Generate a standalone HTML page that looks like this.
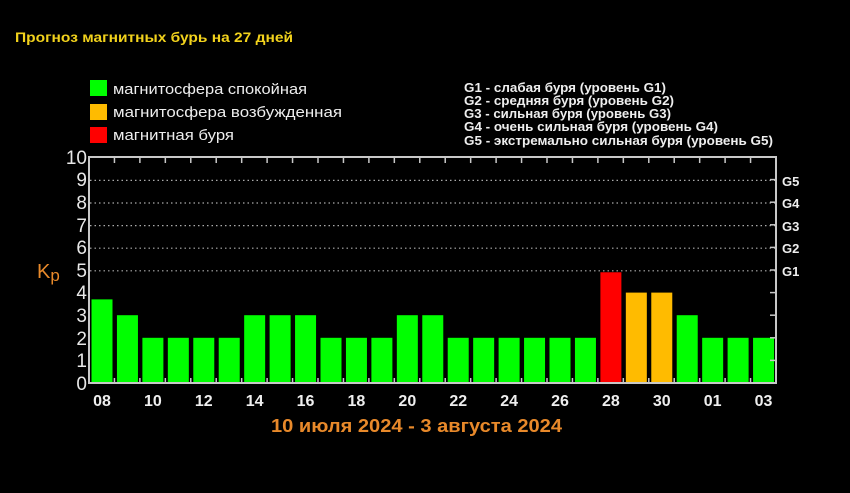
<!DOCTYPE html>
<html><head><meta charset="utf-8"><style>
html,body{margin:0;padding:0;background:#000;width:850px;height:493px;overflow:hidden}
svg text{font-family:"Liberation Sans","DejaVu Sans",sans-serif}
</style></head><body>
<svg width="850" height="493" viewBox="0 0 850 493" xmlns="http://www.w3.org/2000/svg">
<rect width="850" height="493" fill="#000"/>
<text x="15" y="42" fill="#f2d21c" font-size="14" font-weight="bold" textLength="278" lengthAdjust="spacingAndGlyphs">Прогноз магнитных бурь на 27 дней</text>
<rect x="90" y="80" width="17" height="16" fill="#00ff00"/>
<rect x="90" y="104" width="17" height="16" fill="#ffbb00"/>
<rect x="90" y="127" width="17" height="16" fill="#ff0000"/>
<g fill="#eee" font-size="15">
<text x="113" y="94" textLength="194" lengthAdjust="spacingAndGlyphs">магнитосфера спокойная</text>
<text x="113" y="117" textLength="229" lengthAdjust="spacingAndGlyphs">магнитосфера возбужденная</text>
<text x="113" y="140" textLength="121" lengthAdjust="spacingAndGlyphs">магнитная буря</text>
</g>
<g fill="#eee" font-size="13" font-weight="bold">
<text x="464" y="92" textLength="202" lengthAdjust="spacingAndGlyphs">G1 - слабая буря (уровень G1)</text>
<text x="464" y="105" textLength="210" lengthAdjust="spacingAndGlyphs">G2 - средняя буря (уровень G2)</text>
<text x="464" y="118" textLength="207" lengthAdjust="spacingAndGlyphs">G3 - сильная буря (уровень G3)</text>
<text x="464" y="131" textLength="254" lengthAdjust="spacingAndGlyphs">G4 - очень сильная буря (уровень G4)</text>
<text x="464" y="145" textLength="309" lengthAdjust="spacingAndGlyphs">G5 - экстремально сильная буря (уровень G5)</text>
</g>
<g stroke="#aaa" stroke-width="1.2" stroke-dasharray="1.5 3">
<line x1="90" y1="180.4" x2="776" y2="180.4"/>
<line x1="90" y1="203" x2="776" y2="203"/>
<line x1="90" y1="225.6" x2="776" y2="225.6"/>
<line x1="90" y1="248.2" x2="776" y2="248.2"/>
<line x1="90" y1="270.8" x2="776" y2="270.8"/>
</g>
<g id="bars"></g>
<g fill="#e8e8e8" font-size="19" text-anchor="end">
<text x="87" y="390">0</text><text x="87" y="367">1</text><text x="87" y="345">2</text><text x="87" y="322">3</text><text x="87" y="299">4</text><text x="87" y="277">5</text><text x="87" y="254">6</text><text x="87" y="232">7</text><text x="87" y="209">8</text><text x="87" y="186">9</text><text x="87" y="164">10</text>
</g>
<text x="37" y="278" fill="#e8892a" font-size="20">K<tspan font-size="17" dy="3">p</tspan></text>
<g fill="#eee" font-size="13" font-weight="bold">
<text x="782" y="186">G5</text><text x="782" y="208">G4</text><text x="782" y="231">G3</text><text x="782" y="253">G2</text><text x="782" y="276">G1</text>
</g>
<text x="271" y="432" fill="#e8892a" font-size="18" font-weight="bold" textLength="291" lengthAdjust="spacingAndGlyphs">10 июля 2024 - 3 августа 2024</text>
<g id="xl" fill="#eee" font-size="16" font-weight="bold" text-anchor="middle"></g>
<g id="ax" stroke="#c8c8c8" fill="none"></g>
</svg>
<script>
var v=[3.7,3,2,2,2,2,3,3,3,2,2,2,3,3,2,2,2,2,2,2,4.9,4,4,3,2,2,2];
var lab=["08","10","12","14","16","18","20","22","24","26","28","30","01","03"];
var ns="http://www.w3.org/2000/svg";
function el(t,a,p){var e=document.createElementNS(ns,t);for(var k in a)e.setAttribute(k,a[k]);p.appendChild(e);return e;}
var b=document.getElementById("bars"),xl=document.getElementById("xl"),ax=document.getElementById("ax");
var s=(776-89)/27;
v.forEach(function(val,i){
 var c=i==20?"#ff0000":(i==21||i==22)?"#ffbb00":"#00ff00";
 var y=383-22.6*val;
 el("rect",{x:89+i*s+2.5,y:y,width:21,height:383-y,fill:c},b);
});
lab.forEach(function(l,j){var i=j*2;var t=el("text",{x:89+i*s+13,y:406},xl);t.textContent=l;});
el("rect",{x:89,y:157,width:687,height:226,"stroke-width":2},ax);
for(var i=1;i<27;i++){var x=89+i*s;el("line",{x1:x,y1:157,x2:x,y2:163,"stroke-width":1.5},ax);el("line",{x1:x,y1:383,x2:x,y2:378,"stroke-width":1.5},ax);}
for(var k=1;k<10;k++){var y=383-22.6*k;el("line",{x1:770,y1:y,x2:776,y2:y,"stroke-width":1.5},ax);}
</script>
</body></html>
